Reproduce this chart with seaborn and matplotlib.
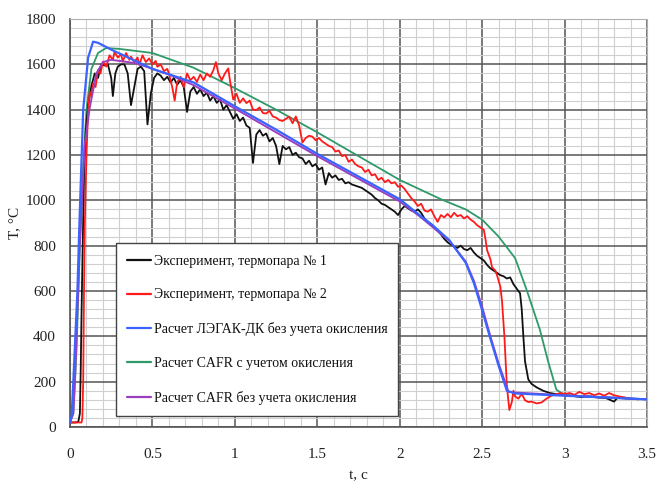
import numpy as np
import pandas as pd
import seaborn as sns
import matplotlib
matplotlib.use("Agg")
import matplotlib.pyplot as plt
from matplotlib.ticker import MultipleLocator
from matplotlib.lines import Line2D

# ---------------- data ----------------
labels = [
    "Эксперимент, термопара № 1",
    "Эксперимент, термопара № 2",
    "Расчет ЛЭГАК-ДК без учета окисления",
    "Расчет CAFR с учетом окисления",
    "Расчет CAFR без учета окисления",
]

t_exp1 = [0.00, 0.03, 0.05, 0.06, 0.065, 0.07, 0.077, 0.085, 0.095, 0.11, 0.13, 0.15, 0.17, 0.19,
          0.21, 0.23, 0.25, 0.26, 0.275, 0.29, 0.31, 0.33, 0.35, 0.37, 0.39, 0.41, 0.43, 0.45,
          0.47, 0.49, 0.51, 0.53, 0.55, 0.57, 0.59, 0.61, 0.63, 0.65, 0.67, 0.69, 0.71, 0.73,
          0.75, 0.77, 0.79, 0.81, 0.83, 0.85, 0.87, 0.89, 0.91, 0.93, 0.95, 0.97, 0.99, 1.01,
          1.03, 1.05, 1.07, 1.09, 1.11, 1.13, 1.15, 1.17, 1.19, 1.21, 1.23, 1.25, 1.27, 1.29,
          1.31, 1.33, 1.35, 1.37, 1.39, 1.41, 1.43, 1.45, 1.47, 1.49, 1.51, 1.53, 1.55, 1.57,
          1.59, 1.61, 1.63, 1.65, 1.67, 1.69, 1.71, 1.73, 1.75, 1.77, 1.79, 1.81, 1.83, 1.85,
          1.87, 1.89, 1.91, 1.93, 1.95, 1.97, 1.99, 2.01, 2.03, 2.05, 2.07, 2.09, 2.11, 2.13,
          2.15, 2.17, 2.19, 2.21, 2.23, 2.25, 2.27, 2.29, 2.31, 2.33, 2.35, 2.37, 2.39, 2.41,
          2.43, 2.45, 2.47, 2.49, 2.51, 2.53, 2.55, 2.57, 2.59, 2.61, 2.63, 2.65, 2.67, 2.69,
          2.71, 2.73, 2.74, 2.75, 2.76, 2.78, 2.80, 2.83, 2.87, 2.91, 2.95, 3.00, 3.05, 3.10,
          3.15, 3.20, 3.25, 3.30, 3.32, 3.40, 3.45]
T_exp1 = [20, 20, 22, 60, 250, 500, 800, 1100, 1300, 1420, 1505, 1560, 1540, 1600,
          1595, 1600, 1540, 1460, 1560, 1590, 1600, 1600, 1560, 1420, 1500, 1580, 1590, 1570,
          1335, 1470, 1540, 1560, 1550, 1530, 1545, 1520, 1540, 1510, 1530, 1500, 1390, 1480,
          1500, 1470, 1490, 1460, 1475, 1440, 1460, 1430, 1445, 1400, 1420, 1390, 1360, 1380,
          1350, 1365, 1330, 1320, 1165, 1290, 1310, 1285, 1295, 1260, 1275, 1240, 1160, 1240,
          1225, 1235, 1200, 1210, 1190, 1185, 1160, 1175, 1150, 1160, 1135, 1145, 1070, 1120,
          1100, 1110, 1090, 1095, 1075, 1080, 1070, 1065, 1060, 1055, 1045, 1035, 1025, 1010,
          1000, 985, 980, 970, 960, 950, 935, 960, 975, 965, 955, 950, 960, 945,
          920, 905, 895, 880, 865, 850, 830, 815, 805, 795, 790, 800, 785, 780,
          790, 770, 755, 745, 735, 715, 700, 690, 680, 670, 665, 655, 660, 630,
          610, 590, 520, 400, 290, 210, 190, 175, 160, 150, 145, 140, 137, 132,
          135, 130, 128, 112, 128, 125, 122]

t_exp2 = [0.00, 0.07, 0.075, 0.08, 0.085, 0.09, 0.10, 0.11, 0.12, 0.13, 0.14, 0.155, 0.17, 0.185,
          0.20, 0.22, 0.24, 0.26, 0.27, 0.29, 0.31, 0.32, 0.34, 0.36, 0.37, 0.39, 0.41, 0.42,
          0.44, 0.46, 0.48, 0.50, 0.52, 0.53, 0.55, 0.57, 0.59, 0.60, 0.62, 0.635, 0.65, 0.67,
          0.69, 0.71, 0.73, 0.75, 0.77, 0.79, 0.81, 0.83, 0.85, 0.87, 0.885, 0.90, 0.92, 0.94,
          0.96, 0.97, 0.99, 1.01, 1.03, 1.05, 1.07, 1.09, 1.11, 1.13, 1.15, 1.17, 1.19, 1.21,
          1.23, 1.25, 1.27, 1.29, 1.31, 1.33, 1.35, 1.37, 1.39, 1.41, 1.43, 1.45, 1.47, 1.49,
          1.51, 1.53, 1.55, 1.57, 1.59, 1.61, 1.63, 1.65, 1.67, 1.69, 1.71, 1.73, 1.75, 1.77,
          1.79, 1.81, 1.83, 1.85, 1.87, 1.89, 1.91, 1.93, 1.95, 1.97, 1.99, 2.01, 2.03, 2.05,
          2.07, 2.09, 2.11, 2.13, 2.15, 2.17, 2.19, 2.21, 2.23, 2.25, 2.27, 2.29, 2.31, 2.33,
          2.35, 2.37, 2.39, 2.41, 2.43, 2.45, 2.47, 2.49, 2.51, 2.52, 2.53, 2.55, 2.56, 2.58,
          2.59, 2.61, 2.62, 2.635, 2.65, 2.665, 2.68, 2.69, 2.70, 2.72, 2.74, 2.76, 2.78, 2.80,
          2.83, 2.86, 2.89, 2.92, 2.95, 2.98, 3.00, 3.03, 3.06, 3.09, 3.12, 3.15, 3.18, 3.21,
          3.24, 3.27, 3.30, 3.33, 3.37]
T_exp2 = [20, 20, 40, 200, 600, 900, 1200, 1400, 1480, 1460, 1515, 1500, 1575, 1560,
          1612, 1590, 1640, 1620, 1655, 1630, 1645, 1612, 1650, 1620, 1634, 1610, 1630, 1597,
          1640, 1610, 1626, 1600, 1615, 1589, 1600, 1570, 1580, 1560, 1500, 1440, 1520, 1545,
          1500, 1560, 1530, 1545, 1523, 1555, 1530, 1560, 1545, 1575, 1610, 1560, 1530, 1560,
          1582, 1530, 1445, 1470, 1430, 1450, 1429, 1440, 1400, 1398, 1410, 1385, 1383, 1395,
          1370, 1365, 1354, 1350, 1360, 1369, 1340, 1370, 1330, 1255, 1275, 1285, 1281, 1265,
          1275, 1260, 1250, 1240, 1235, 1215, 1220, 1195, 1200, 1170, 1180, 1160, 1150, 1145,
          1125, 1135, 1110, 1115, 1090, 1100, 1080, 1090, 1075, 1080, 1060, 1065, 1050, 1030,
          1010, 995, 975, 985, 955, 950, 960, 930, 905, 935, 925, 940, 925, 945,
          930, 935, 920, 930, 915, 905, 890, 880, 870, 830, 780, 740, 705, 690,
          670, 620, 560, 400, 180, 75, 110, 160, 135, 125, 147, 118, 110, 112,
          104, 108, 125, 138, 145, 150, 145, 150, 142, 155, 145, 150, 140, 148,
          138, 150, 140, 135, 130]

t_legak = [0.00, 0.01, 0.02, 0.045, 0.055, 0.08, 0.11, 0.14, 0.17, 0.25, 0.50, 0.75, 1.00, 1.25,
           1.50, 1.75, 2.00, 2.12, 2.20, 2.30, 2.40, 2.45, 2.50, 2.55, 2.60, 2.65, 2.70, 3.00, 3.50]
T_legak = [20, 50, 200, 600, 850, 1400, 1630, 1700, 1695, 1665, 1580, 1520, 1415, 1312,
           1205, 1105, 1005, 935, 890, 825, 725, 635, 515, 390, 270, 160, 148, 138, 122]

t_cafr_ox = [0.00, 0.02, 0.04, 0.06, 0.08, 0.10, 0.13, 0.17, 0.22, 0.30, 0.50, 0.75, 1.00, 1.25,
             1.50, 1.75, 2.00, 2.25, 2.40, 2.50, 2.60, 2.70, 2.77, 2.85, 2.90, 2.95, 3.00, 3.50]
T_cafr_ox = [20, 60, 350, 800, 1150, 1400, 1580, 1650, 1672, 1668, 1650, 1585, 1495, 1400,
             1300, 1195, 1090, 1005, 960, 915, 840, 745, 605, 430, 290, 165, 140, 122]

t_cafr = [0.00, 0.02, 0.03, 0.06, 0.09, 0.12, 0.16, 0.20, 0.25, 0.40, 0.60, 0.75, 1.00, 1.25,
          1.50, 1.75, 2.00, 2.12, 2.30, 2.40, 2.45, 2.50, 2.55, 2.60, 2.66, 2.70, 3.00, 3.50]
T_cafr = [20, 60, 200, 825, 1250, 1410, 1560, 1610, 1620, 1605, 1555, 1508, 1405, 1300,
          1195, 1095, 995, 930, 822, 730, 645, 530, 400, 280, 155, 152, 140, 122]

x_ticks = [0, 0.5, 1, 1.5, 2, 2.5, 3, 3.5]
x_tick_labels = ["0", "0.5", "1", "1.5", "2", "2.5", "3", "3.5"]
y_ticks = [0, 200, 400, 600, 800, 1000, 1200, 1400, 1600, 1800]

colors = ["#111111", "#ff1a1a", "#3a63ff", "#2e9a6a", "#9b3fbf"]

# ---------------- plot ----------------
sns.set_theme(style="white")
plt.rcParams["font.family"] = ["Liberation Serif", "DejaVu Serif"]

fig = plt.figure(figsize=(6.59, 4.82), dpi=100)
ax = fig.add_axes([70 / 659, 1 - 427 / 482, 577 / 659, 408 / 482])

series = [
    (t_exp1, T_exp1, 1.3, 3),
    (t_exp2, T_exp2, 1.3, 4),
    (t_legak, T_legak, 1.6, 6),
    (t_cafr_ox, T_cafr_ox, 1.3, 2),
    (t_cafr, T_cafr, 1.4, 5),
]
handles = []
for (tt, TT, lw, z), lab, col in zip(series, labels, colors):
    df = pd.DataFrame({"t": tt, "T": TT})
    sns.lineplot(data=df, x="t", y="T", ax=ax, color=col, linewidth=lw,
                 sort=False, estimator=None, zorder=z)
    handles.append(Line2D([0], [0], color=col, linewidth=1.6))

ax.set_xlim(0, 3.5)
ax.set_ylim(0, 1800)
ax.set_xticks(x_ticks)
ax.set_xticklabels(x_tick_labels)
ax.set_yticks(y_ticks)
ax.xaxis.set_minor_locator(MultipleLocator(0.1))
ax.yaxis.set_minor_locator(MultipleLocator(40))
ax.grid(which="minor", color="#d0d0d0", linewidth=0.8, zorder=0)
ax.grid(which="major", color="#555555", linewidth=1.1, zorder=0)
ax.set_axisbelow(True)

for s in ["top", "right"]:
    ax.spines[s].set_color("#b0b0b0")
    ax.spines[s].set_linewidth(0.8)
for s in ["left", "bottom"]:
    ax.spines[s].set_color("#555555")
    ax.spines[s].set_linewidth(1.2)

ax.tick_params(axis="both", which="major", labelsize=11, colors="#333333",
               length=5, width=1, direction="out")
ax.tick_params(axis="x", which="major", pad=10)
ax.tick_params(axis="y", which="major", pad=5)
for lbl in ax.get_xticklabels() + ax.get_yticklabels():
    lbl.set_color("#222222")

ax.set_xlabel("t, c", fontsize=11, color="#222222", labelpad=6)
ax.set_ylabel("T, °C", fontsize=11, color="#222222", labelpad=3)

leg = ax.legend(handles, labels, loc="lower left",
                bbox_to_anchor=(46 / 577, 11 / 408, 282 / 577, 174 / 408),
                mode="expand", fontsize=10, frameon=True, fancybox=False,
                edgecolor="#444444", framealpha=1, handlelength=1.75,
                handletextpad=0.15, borderpad=0.8, labelspacing=1.5,
                borderaxespad=0)
leg.get_frame().set_linewidth(1.0)
leg.set_zorder(10)
for txt in leg.get_texts():
    txt.set_color("#111111")

fig.savefig("out.png", dpi=100)
